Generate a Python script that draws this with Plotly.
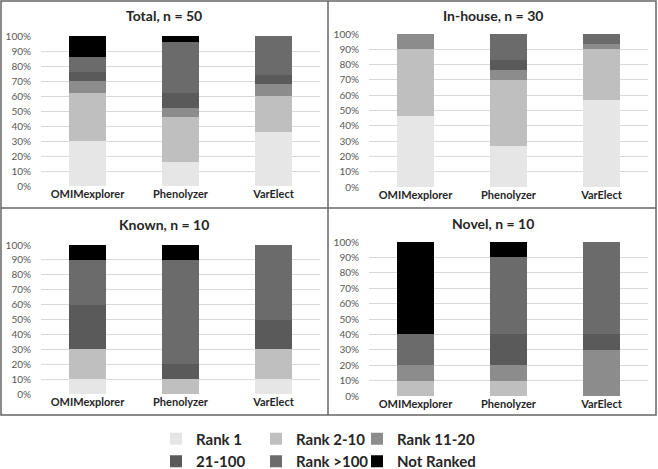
import plotly.graph_objects as go

W, H = 658, 469

tools = ["OMIMexplorer", "Phenolyzer", "VarElect"]
rank_labels = ["Rank 1", "Rank 2-10", "Rank 11-20", "21-100", "Rank >100", "Not Ranked"]
rank_colors = ["#e6e6e6", "#bfbfbf", "#8c8c8c", "#5a5a5a", "#6b6b6b", "#000000"]

panel_titles = ["Total, n = 50", "In-house, n = 30", "Known, n = 10", "Novel, n = 10"]

# counts of cases per rank category, per tool (OMIMexplorer, Phenolyzer, VarElect)
total_counts = {
    "Rank 1":     [15, 8, 18],
    "Rank 2-10":  [16, 15, 12],
    "Rank 11-20": [4, 3, 4],
    "21-100":     [3, 5, 3],
    "Rank >100":  [5, 17, 13],
    "Not Ranked": [7, 2, 0],
}
inhouse_counts = {
    "Rank 1":     [14, 8, 17],
    "Rank 2-10":  [13, 13, 10],
    "Rank 11-20": [3, 2, 1],
    "21-100":     [0, 2, 0],
    "Rank >100":  [0, 5, 2],
    "Not Ranked": [0, 0, 0],
}
known_counts = {
    "Rank 1":     [1, 0, 1],
    "Rank 2-10":  [2, 1, 2],
    "Rank 11-20": [0, 0, 0],
    "21-100":     [3, 1, 2],
    "Rank >100":  [3, 7, 5],
    "Not Ranked": [1, 1, 0],
}
novel_counts = {
    "Rank 1":     [0, 0, 0],
    "Rank 2-10":  [1, 1, 0],
    "Rank 11-20": [1, 1, 3],
    "21-100":     [0, 2, 1],
    "Rank >100":  [2, 5, 6],
    "Not Ranked": [6, 1, 0],
}
panels = [total_counts, inhouse_counts, known_counts, novel_counts]

y_tick_vals = [0, 10, 20, 30, 40, 50, 60, 70, 80, 90, 100]
y_tick_text = ["0%", "10%", "20%", "30%", "40%", "50%", "60%", "70%", "80%", "90%", "100%"]

# layout geometry in pixels (x0, x1, ytop, ybottom) for each plot area
areas = [(41, 320, 36, 186), (369, 648, 34, 187), (41, 320, 245, 394), (369, 648, 242, 396)]
title_pos = [(164, 16), (493, 15), (164, 224), (493, 223)]

FONT = "Lato"

def px(x):
    return x / W

def py(y):
    return 1 - y / H

fig = go.Figure()
layout = dict(
    width=W, height=H,
    margin=dict(l=0, r=0, t=0, b=0, autoexpand=False),
    paper_bgcolor="white", plot_bgcolor="white",
    barmode="stack", barnorm="percent", bargap=0.6,
    font=dict(family=FONT, color="#595959"),
    showlegend=True,
)

for i, counts in enumerate(panels):
    k = "" if i == 0 else str(i + 1)
    for j, lab in enumerate(rank_labels):
        fig.add_trace(go.Bar(
            x=tools, y=counts[lab], name=lab,
            marker=dict(color=rank_colors[j], line=dict(width=0)),
            xaxis="x" + k, yaxis="y" + k,
            showlegend=(i == 0),
            legend=["legend", "legend2", "legend3"][j % 3],
            legendgroup=lab,
        ))
    x0, x1, yt, yb = areas[i]
    layout["xaxis" + k] = dict(
        domain=[px(x0), px(x1)], anchor="y" + k, automargin=False,
        showgrid=False, showline=False, ticks="",
        tickfont=dict(family=FONT, size=11, color="#262626", weight="bold"),
    )
    layout["yaxis" + k] = dict(
        domain=[py(yb), py(yt)], anchor="x" + k, automargin=False,
        range=[0, 100], tickvals=y_tick_vals, ticktext=y_tick_text,
        showgrid=True, gridcolor="#d9d9d9", gridwidth=1,
        zeroline=False, showline=False, ticks="outside", ticklen=7, tickcolor="rgba(0,0,0,0)",
        tickfont=dict(family=FONT, size=10, color="#595959"),
    )

annotations = []
for (tx, ty), t in zip(title_pos, panel_titles):
    annotations.append(dict(
        x=px(tx), y=py(ty), xref="paper", yref="paper", text=t, showarrow=False,
        xanchor="center", yanchor="middle",
        font=dict(family=FONT, size=14, color="#262626", weight="bold"),
    ))
layout["annotations"] = annotations

bc = "#666666"
shapes = [
    dict(type="rect", xref="paper", yref="paper", x0=px(1), x1=px(656), y0=py(415), y1=py(1),
         line=dict(color=bc, width=1.5)),
    dict(type="line", xref="paper", yref="paper", x0=px(328), x1=px(328), y0=py(415), y1=py(1),
         line=dict(color=bc, width=1.5)),
    dict(type="line", xref="paper", yref="paper", x0=px(1), x1=px(656), y0=py(208), y1=py(208),
         line=dict(color=bc, width=1.5)),
]
layout["shapes"] = shapes

legfont = dict(family=FONT, size=15, color="#262626", weight="bold")
for name, lx in zip(["legend", "legend2", "legend3"], [156, 256, 357]):
    layout[name] = dict(orientation="v", x=px(lx), y=py(450), xanchor="left", yanchor="middle",
                        font=legfont, bgcolor="rgba(0,0,0,0)", traceorder="normal",
                        tracegroupgap=5)

fig.update_layout(**layout)
fig.write_html("out.html", config={"displayModeBar": False},
               post_script="document.body.style.margin='0';")
